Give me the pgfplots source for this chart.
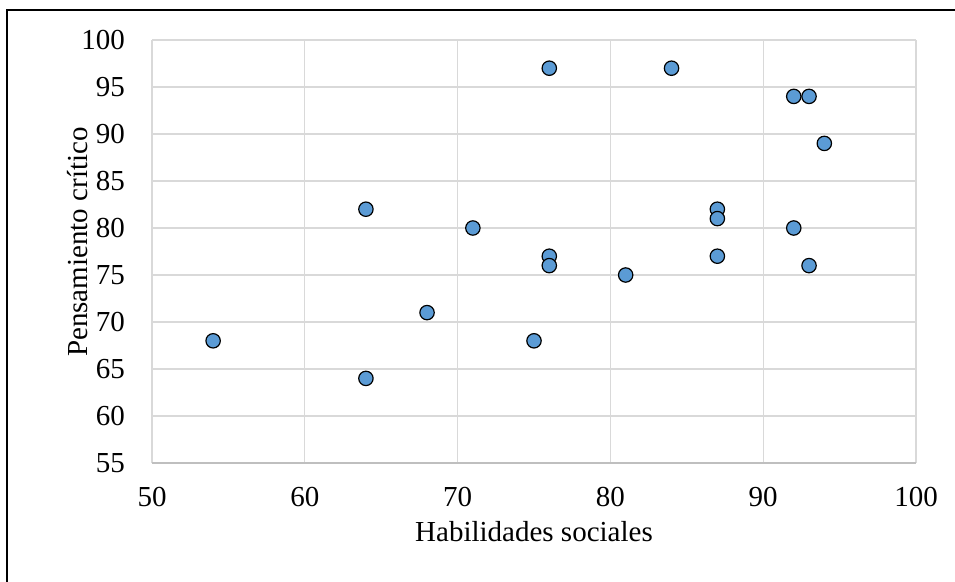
\documentclass[border=0pt]{standalone}
\usepackage{pgfplots}
\pgfplotsset{compat=1.18}
\usepackage{fontspec}
\setmainfont{Liberation Serif}
\definecolor{mk}{HTML}{5B9BD5}
\definecolor{gridc}{HTML}{D9D9D9}
\definecolor{axc}{HTML}{BFBFBF}
\begin{document}
\begin{tikzpicture}[x=1pt,y=1pt]
\useasboundingbox (0,0) rectangle (955,581);
\draw[line width=2pt] (7,-10) -- (7,571) -- (965,571);
\begin{axis}[
  at={(152pt,118pt)}, anchor=south west,
  scale only axis, width=764pt, height=423pt,
  xmin=50, xmax=100, ymin=55, ymax=100,
  xtick={50,60,...,100}, ytick={55,60,...,100},
  grid=major,
  major grid style={color=gridc, line width=1.3pt},
  axis line style={draw=none},
  major tick length=0pt,
  font=\fontsize{29}{33}\selectfont,
  ticklabel style={font=\fontsize{29}{33}\selectfont},
  label style={font=\fontsize{29}{33}\selectfont},
  /pgf/number format/assume math mode=true,
  xticklabel style={anchor=base, inner sep=0pt, yshift=-43pt},
  yticklabel style={anchor=east, inner sep=0pt, xshift=-27pt},
  xlabel={Habilidades sociales},
  ylabel={Pensamiento crítico},
  xlabel style={at={(axis description cs:0.5,0)}, anchor=base, inner sep=0pt, yshift=-78pt},
  ylabel style={at={(axis description cs:-0.0838,0.522)}, anchor=base, inner sep=0pt},
  clip=false,
]
\draw[axc, line width=1.3pt] (axis cs:50,55) -- (axis cs:100,55);
\addplot[only marks, mark=*, mark size=7.2pt, mark options={fill=mk, draw=black, line width=1.2pt}]
coordinates {
(54,68) (64,82) (64,64) (68,71) (71,80) (75,68) (76,97) (76,77) (76,76)
(81,75) (84,97) (87,82) (87,81) (87,77) (92,94) (93,94) (94,89) (92,80) (93,76)
};
\end{axis}
\end{tikzpicture}
\end{document}
